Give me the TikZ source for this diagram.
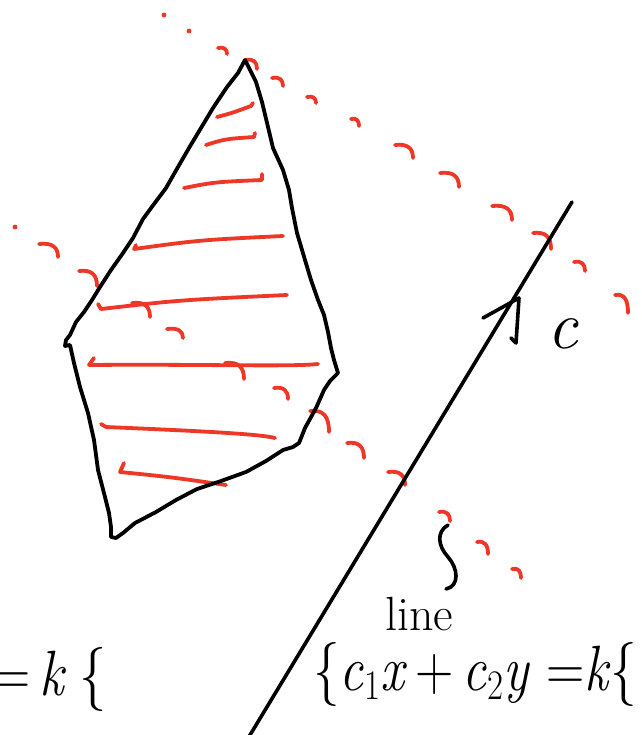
\documentclass[tikz,border=0pt]{standalone}
\usepackage{fontspec}
\usepackage{graphicx}
\definecolor{penred}{RGB}{238,55,38}
\tikzset{
  blackpen/.style={draw=black,line width=3.8pt,line cap=round,line join=round},
  redpen/.style={draw=penred,line width=3.8pt,line cap=round,line join=round},
  hand/.style={inner sep=0pt,outer sep=0pt}
}
\newcommand\hk[4]{\draw[redpen] (#1,#2) .. controls ({#1+0.7*(#3-#1)},{#2-1.5}) and (#3,{#2+0.25*(#4-#2)}) .. (#3,#4);}
\newcommand\sbs[1]{\raisebox{-9pt}{\fontsize{42}{44}\selectfont #1}}
\begin{document}
\begin{tikzpicture}[x=1pt,y=-1pt]
\useasboundingbox (0,0) rectangle (641,735);
\fill[white] (0,0) rectangle (641,735);
\clip (0,0) rectangle (641,735);

% red hatching inside the polygon
\draw[redpen] (217,117) .. controls (232,113) .. (251,106) -- (253,103);
\draw[redpen] (206,145) .. controls (225,139) .. (254,137) -- (255,133);
\draw[redpen] (184,188) .. controls (215,182) .. (262,180) -- (262,174);
\draw[redpen] (136,245) -- (134,249) .. controls (200,240) .. (283,236);
\draw[redpen] (98,304) -- (101,309) .. controls (180,300) .. (287,295);
\draw[redpen] (94,358) -- (89,365) .. controls (200,364) and (290,367) .. (318,364);
\draw[redpen] (101,424) -- (106,427) .. controls (200,431) and (260,434) .. (275,438);
\draw[redpen] (124,463) -- (120,472) .. controls (170,477) .. (226,485);

% upper red dashed line
\fill[penred] (164,15) circle (2.4);
\fill[penred] (189,31) circle (2.4);
\hk{218}{48}{227}{54}
\hk{246}{60}{257}{69}
\hk{272}{78}{283}{86}
\hk{307}{97}{316}{103}
\hk{351}{119}{359}{126}
\hk{395}{145}{413}{158}
\hk{440}{173}{459}{187}
\hk{492}{206}{512}{220}
\hk{533}{233}{551}{249}
\hk{574}{262}{585}{271}
\hk{615}{295}{628}{313}

% lower red dashed line
\fill[penred] (15,227) circle (2.4);
\hk{39}{244}{58}{257}
\hk{79}{271}{97}{286}
\hk{132}{303}{150}{317}
\hk{167}{329}{183}{338}
\hk{225}{363}{244}{379}
\hk{274}{388}{288}{399}
\hk{310}{411}{329}{432}
\hk{347}{443}{364}{458}
\hk{388}{472}{405}{485}
\hk{439}{512}{450}{521}
\hk{477}{542}{488}{554}
\hk{512}{569}{521}{578}

% polygon (feasible region)
\draw[blackpen] (245,60) -- (256,82) -- (262,102) -- (268,127) -- (273,148)
  -- (283,170) -- (289,190) -- (292,208) -- (297,233) -- (305,260) -- (311,280)
  -- (318,300) -- (324,315) -- (328,332) -- (331,348) -- (334,360) -- (338,373)
  -- (330,381) -- (324,390) -- (316,408) -- (305,428) -- (301,438) -- (299,443)
  -- (293,447) -- (283,450) -- (266,461) -- (246,472) -- (221,481) -- (197,489)
  -- (176,500) -- (156,512) -- (135,523) -- (123,533) -- (116,538) -- (111,537)
  -- (111,527) -- (109,513) -- (105,497) -- (98,470) -- (94,440) -- (88,413)
  -- (80,387) -- (74,363) -- (70,345) -- (65,346) -- (66,340) -- (70,335)
  -- (76,322) -- (84,312) -- (92,300) -- (100,287) -- (111,270) -- (123,253)
  -- (133,238) -- (143,219) -- (154,204) -- (166,188) -- (178,167) -- (189,148)
  -- (201,128) -- (213,108) -- (227,87) -- (238,73) -- cycle;

% the line c1x + c2y = k
\draw[blackpen,line width=3.6pt] (572,202) -- (247,740);

% direction c
\draw[blackpen,line width=3.6pt] (511,338) -- (516,343) -- (519,298) -- (483,318);
\node[hand] (clabel) at (563,334) {\fontsize{68}{70}\selectfont\itshape c};

% small brace pointing at the line label
\draw[blackpen,line width=3.6pt] (448,525) .. controls (436,532) and (438,546) .. (448,557)
  .. controls (458,568) and (460,586) .. (446,589);

% labels
\node[hand,anchor=base west] (linelbl) at (385,630) {\fontsize{48}{50}\selectfont line};
\node[hand,anchor=base west] (eqlbl) at (313,690)
  {\fontsize{64}{66}\selectfont\scalebox{0.83}[1]{\{\textit{c}\sbs{1}\textit{x}\,+\,\textit{c}\sbs{2}\textit{y}\ =\textit{k}\{}};
\node[hand,anchor=base east] (leftlbl) at (107,695)
  {\fontsize{64}{66}\selectfont\scalebox{0.85}[1]{=\,\textit{k}\hspace{16pt}\{}};
\end{tikzpicture}
\end{document}
